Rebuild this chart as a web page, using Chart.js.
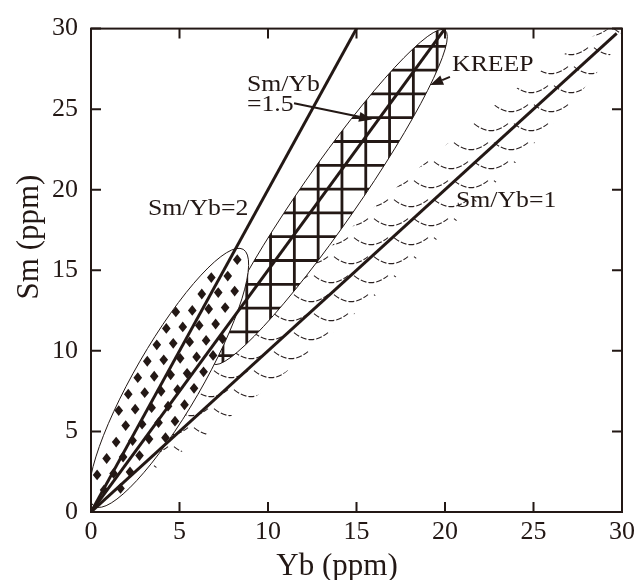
<!DOCTYPE html>
<html><head><meta charset="utf-8">
<script src="https://cdn.jsdelivr.net/npm/chart.js@4/dist/chart.umd.min.js"></script>
<style>html,body{margin:0;padding:0;background:#fff}#wrap{width:644px;height:580px;position:relative}</style>
</head><body><div id="wrap"><canvas id="c"></canvas></div>
<script>
// ---- data ----
const xTicks = [0, 5, 10, 15, 20, 25, 30];
const yTicks = [0, 5, 10, 15, 20, 25, 30];
const xTitle = 'Yb (ppm)';
const yTitle = 'Sm (ppm)';
// reference ratio lines (Yb, Sm end points)
const line2Yb = [0, 15];    const line2Sm = [0, 30];
const line15Yb = [0, 20];   const line15Sm = [0, 30];
const line1Yb = [0, 29.7];  const line1Sm = [0, 29.7];
// fields: lower and upper tips (Yb, Sm)
const dotFieldYb = [0.2, 8.6];     const dotFieldSm = [0.35, 16.3];
const kreepFieldYb = [6.9, 20.0];  const kreepFieldSm = [9.2, 29.9];
const arcFieldYb = [2.0, 29.9];    const arcFieldSm = [2.2, 30.0];
// annotations
const noteTexts = ['Sm/Yb=2', 'Sm/Yb', '=1.5', 'KREEP', 'Sm/Yb=1'];
const noteYb = [3.22, 8.81, 8.81, 20.4, 20.62];
const noteSm = [18.83, 26.5, 25.28, 27.73, 19.33];
const arrowFromYb = [11.47, 20.28]; const arrowFromSm = [25.37, 27.0];
const arrowToYb = [15.88, 19.16];   const arrowToSm = [24.36, 26.5];

const INK = '#231815';
const SERIF = '"Liberation Serif", "Times New Roman", serif';

function pts(xs, ys) { return xs.map((x, i) => ({x: x, y: ys[i]})); }

function ellipseFromTips(xs, ys, ratio, sx, sy) {
  const x1 = sx.getPixelForValue(xs[0]), y1 = sy.getPixelForValue(ys[0]);
  const x2 = sx.getPixelForValue(xs[1]), y2 = sy.getPixelForValue(ys[1]);
  const cx = (x1 + x2) / 2, cy = (y1 + y2) / 2;
  const a = Math.hypot(x2 - x1, y2 - y1) / 2;
  return {cx, cy, a, b: a * ratio, ang: Math.atan2(y2 - y1, x2 - x1)};
}
function ellipsePath(ctx, e) {
  ctx.beginPath();
  ctx.ellipse(e.cx, e.cy, e.a, e.b, e.ang, 0, Math.PI * 2);
  ctx.closePath();
}

const fieldsPlugin = {
  id: 'fields',
  beforeDatasetsDraw(chart) {
    const ctx = chart.ctx, sx = chart.scales.x, sy = chart.scales.y;
    const area = chart.chartArea;
    ctx.save();
    ctx.beginPath(); ctx.rect(area.left, area.top, area.right - area.left, area.bottom - area.top); ctx.clip();

    // arc-scale field along Sm/Yb = 1
    const ea = ellipseFromTips(arcFieldYb, arcFieldSm, 0.1, sx, sy);
    ctx.save();
    ellipsePath(ctx, ea); ctx.clip();
    ctx.strokeStyle = '#2a2020'; ctx.lineWidth = 1.1; ctx.setLineDash([6, 2]);
    const w = 40, sag = 6, rowH = 19;
    for (let j = 0, y = area.top + 2; y < area.bottom + rowH; j++, y += rowH) {
      const off = (j % 2) * (w / 2);
      for (let x = area.left - w + off; x < area.right + w; x += w) {
        ctx.beginPath();
        ctx.moveTo(x + 3, y - 2);
        ctx.quadraticCurveTo(x + w / 2, y + sag * 2, x + w - 3, y - 2);
        ctx.stroke();
      }
    }
    ctx.restore();

    // KREEP field (cross-hatched)
    const ek = ellipseFromTips(kreepFieldYb, kreepFieldSm, 0.14, sx, sy);
    ctx.save();
    ellipsePath(ctx, ek); ctx.fillStyle = '#fff'; ctx.fill(); ctx.clip();
    ctx.strokeStyle = INK; ctx.lineWidth = 2.8;
    const gx0 = sx.getPixelForValue(8.8), gy0 = sy.getPixelForValue(28.9), gs = 23.8;
    for (let x = gx0 - gs * 10; x < area.right; x += gs) {
      ctx.beginPath(); ctx.moveTo(x, area.top); ctx.lineTo(x, area.bottom); ctx.stroke();
    }
    for (let y = gy0 - gs * 2; y < area.bottom; y += gs) {
      ctx.beginPath(); ctx.moveTo(area.left, y); ctx.lineTo(area.right, y); ctx.stroke();
    }
    ctx.restore();
    ellipsePath(ctx, ek); ctx.strokeStyle = INK; ctx.lineWidth = 1; ctx.stroke();

    // dotted field
    const ed = ellipseFromTips(dotFieldYb, dotFieldSm, 0.225, sx, sy);
    ctx.save();
    ellipsePath(ctx, ed); ctx.fillStyle = '#fff'; ctx.fill(); ctx.clip();
    ctx.fillStyle = INK;
    const ca = Math.cos(ed.ang), sa = Math.sin(ed.ang);
    const du = 19, dv = 13.5, r = 5.4;
    for (let k = -3; k <= 3; k++) {
      const v = k * dv;
      for (let u = -ed.a + ((k + 4) % 2) * du / 2; u <= ed.a; u += du) {
        if ((u / ed.a) ** 2 + (v / ed.b) ** 2 > 0.86) continue;
        const px = ed.cx + u * ca - v * sa, py = ed.cy + u * sa + v * ca;
        ctx.beginPath();
        ctx.moveTo(px, py - r); ctx.lineTo(px + r * 0.8, py); ctx.lineTo(px, py + r); ctx.lineTo(px - r * 0.8, py);
        ctx.closePath(); ctx.fill();
      }
    }
    ctx.restore();
    ellipsePath(ctx, ed); ctx.strokeStyle = INK; ctx.lineWidth = 1; ctx.stroke();
    ctx.restore();
  },
  afterDatasetsDraw(chart) {
    const ctx = chart.ctx, sx = chart.scales.x, sy = chart.scales.y;
    const a = chart.chartArea;
    ctx.save();
    // annotations
    ctx.fillStyle = INK;
    ctx.font = '23px ' + SERIF;
    ctx.textBaseline = 'middle'; ctx.textAlign = 'left';
    noteTexts.forEach((t, i) => {
      const px = sx.getPixelForValue(noteYb[i]), py = sy.getPixelForValue(noteSm[i]);
      ctx.save(); ctx.translate(px, py); ctx.scale(1.12, 1); ctx.fillText(t, 0, 0); ctx.restore();
    });
    // arrows
    ctx.strokeStyle = INK; ctx.lineWidth = 2;
    arrowFromYb.forEach((fx, i) => {
      const x1 = sx.getPixelForValue(fx), y1 = sy.getPixelForValue(arrowFromSm[i]);
      const x2 = sx.getPixelForValue(arrowToYb[i]), y2 = sy.getPixelForValue(arrowToSm[i]);
      const an = Math.atan2(y2 - y1, x2 - x1), L = 13, H = 5;
      const bx = x2 - L * Math.cos(an), by = y2 - L * Math.sin(an);
      ctx.beginPath(); ctx.moveTo(x1, y1); ctx.lineTo(bx, by); ctx.stroke();
      ctx.beginPath(); ctx.moveTo(x2, y2);
      ctx.lineTo(bx - H * Math.sin(an), by + H * Math.cos(an));
      ctx.lineTo(bx + H * Math.sin(an), by - H * Math.cos(an));
      ctx.closePath(); ctx.fill();
    });
    // frame
    ctx.lineWidth = 2; ctx.strokeStyle = INK;
    ctx.strokeRect(a.left, a.top, a.right - a.left, a.bottom - a.top);
    // inward ticks
    const T = 10;
    ctx.beginPath();
    xTicks.forEach(v => {
      const px = sx.getPixelForValue(v);
      ctx.moveTo(px, a.bottom); ctx.lineTo(px, a.bottom - T);
      ctx.moveTo(px, a.top); ctx.lineTo(px, a.top + T);
    });
    yTicks.forEach(v => {
      const py = sy.getPixelForValue(v);
      ctx.moveTo(a.left, py); ctx.lineTo(a.left + T, py);
      ctx.moveTo(a.right, py); ctx.lineTo(a.right - T, py);
    });
    ctx.stroke();
    // axis titles
    ctx.font = '31px ' + SERIF;
    ctx.textAlign = 'center'; ctx.textBaseline = 'alphabetic';
    ctx.fillText(xTitle, 337, 575);
    ctx.save(); ctx.translate(38, 237); ctx.rotate(-Math.PI / 2); ctx.fillText(yTitle, 0, 0); ctx.restore();
    ctx.restore();
  }
};

const lineStyle = {showLine: true, borderColor: INK, backgroundColor: INK, borderWidth: 3, pointRadius: 0, fill: false, tension: 0};
new Chart(document.getElementById('c'), {
  type: 'scatter',
  data: {
    datasets: [
      Object.assign({label: 'Sm/Yb=2', data: pts(line2Yb, line2Sm)}, lineStyle),
      Object.assign({label: 'Sm/Yb=1.5', data: pts(line15Yb, line15Sm)}, lineStyle),
      Object.assign({label: 'Sm/Yb=1', data: pts(line1Yb, line1Sm)}, lineStyle)
    ]
  },
  options: {
    responsive: true, maintainAspectRatio: false, animation: false,
    layout: {padding: {top: 23, right: 22, left: 0, bottom: 0}},
    plugins: {legend: {display: false}, tooltip: {enabled: false}},
    scales: {
      x: {
        type: 'linear', min: 0, max: 30,
        afterBuildTicks: s => { s.ticks = xTicks.map(v => ({value: v})); },
        afterFit: s => { s.height = 68; },
        grid: {display: false, drawTicks: false},
        border: {display: false},
        ticks: {color: INK, font: {family: SERIF, size: 26}, padding: 5, maxRotation: 0}
      },
      y: {
        type: 'linear', min: 0, max: 30,
        afterBuildTicks: s => { s.ticks = yTicks.map(v => ({value: v})); },
        afterFit: s => { s.width = 91; },
        grid: {display: false, drawTicks: false},
        border: {display: false},
        ticks: {color: INK, font: {family: SERIF, size: 26}, padding: 13}
      }
    }
  },
  plugins: [fieldsPlugin]
});
</script></body></html>
